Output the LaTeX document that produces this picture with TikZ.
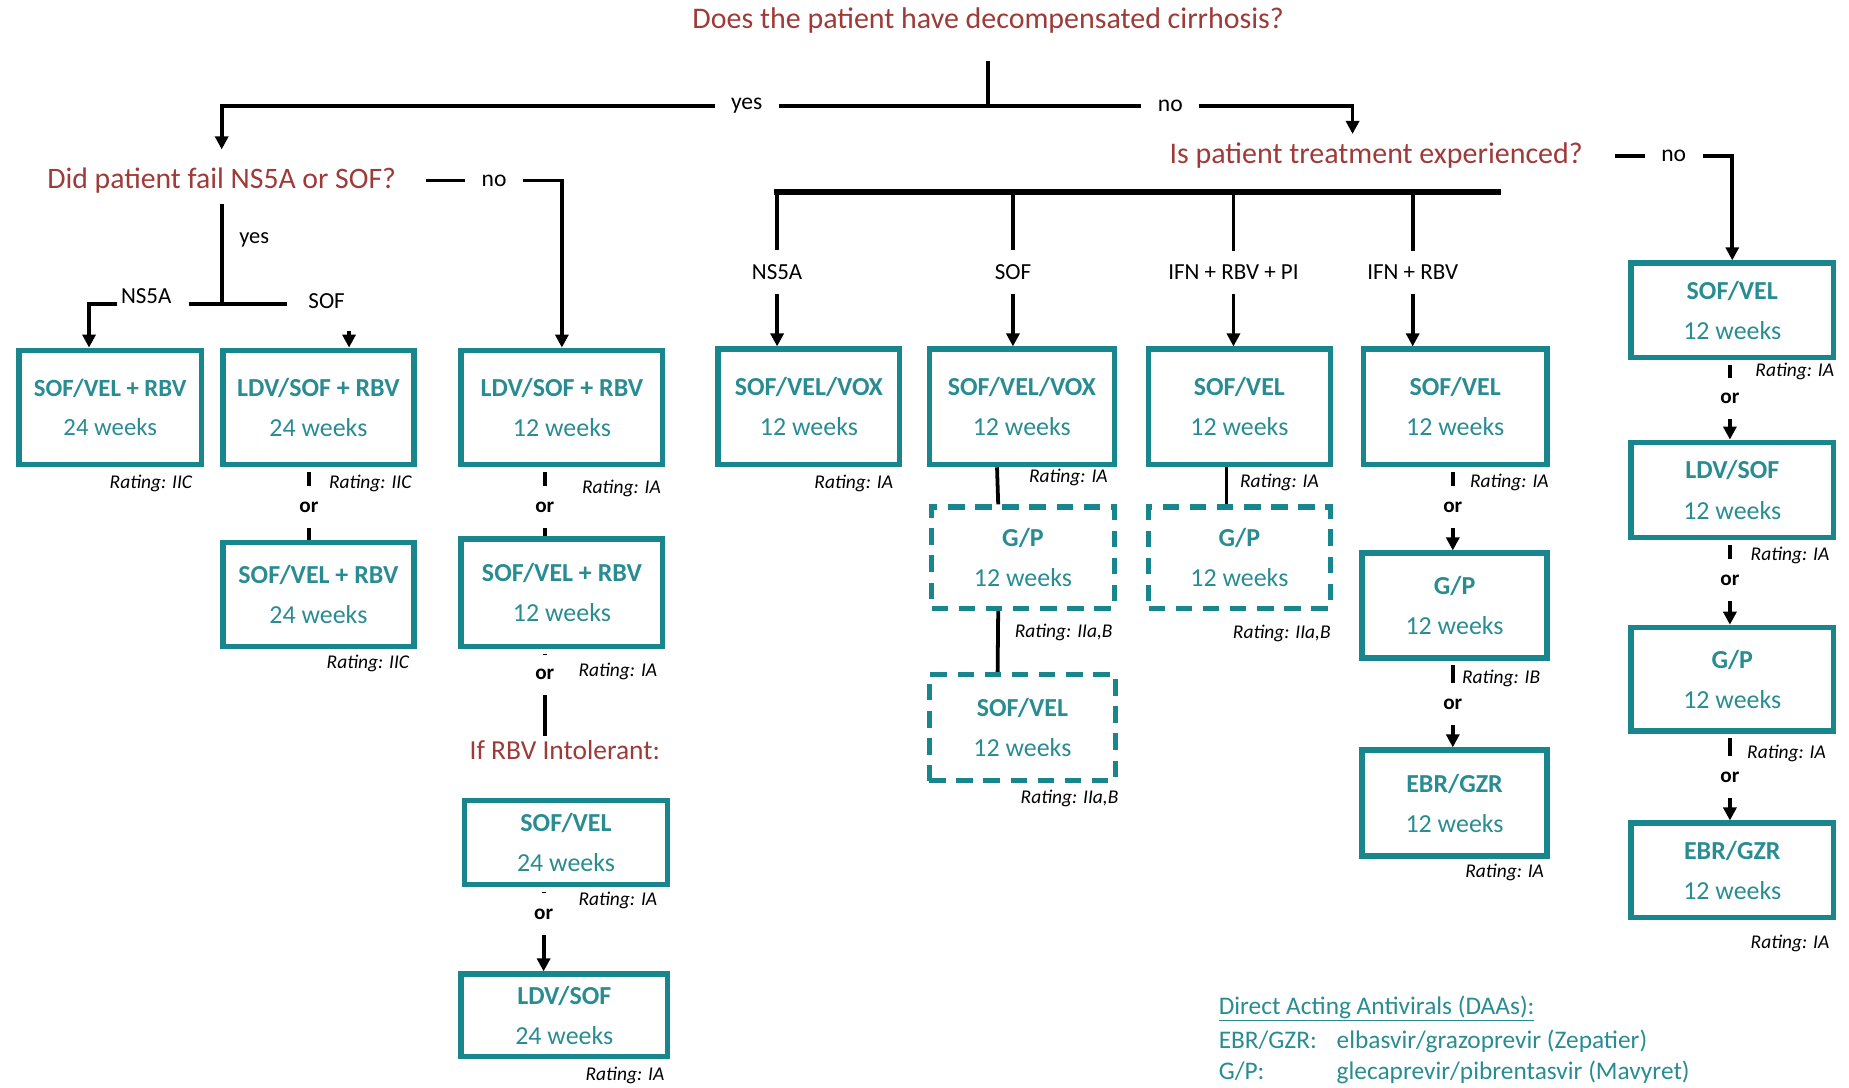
\documentclass[tikz,border=0pt]{standalone}
\usepackage{fontspec}
\setmainfont{Carlito}
\usetikzlibrary{arrows.meta}

\definecolor{dred}{RGB}{158,58,56}
\definecolor{tealb}{RGB}{24,134,140}
\definecolor{tealt}{RGB}{40,140,146}
\def\fsz#1{\fontsize{#1}{#1}\selectfont}

\begin{document}
\begin{tikzpicture}[x=1pt, y=-1pt,
    quest/.style={text=dred, font=\fsz{25.4}},
    rbox/.style={draw=tealb, line width=4.5pt, text=tealt, align=center, font=\fsz{22}, inner sep=0pt},
    dbox/.style={rbox, dash pattern=on 14pt off 9pt},
    rate/.style={font=\fsz{16.5}\itshape},
    brlab/.style={font=\fsz{19.5}, inner ysep=12pt},
    gap/.style={fill=white, font=\fsz{20}, inner xsep=14pt},
    ornode/.style={font=\fsz{18}\bfseries, inner xsep=1pt, inner ysep=13pt},
    legtxt/.style={anchor=west, text=tealt, font=\fsz{21.5}},
    ln/.style={line width=3.2pt},
    arr/.style={ln, -{Triangle[width=11pt,length=11pt]}},
  ]
  \useasboundingbox (0,0) rectangle (1568,922);

  % Questions
  \node[quest] (q1) at (838,17) {Does the patient have decompensated cirrhosis?};
  \node[quest, font=\fsz{25.2}] (q2) at (188,153) {Did patient fail NS5A or SOF?};
  \node[quest] (q3) at (1167,132) {Is patient treatment experienced?};
  \node[quest, font=\fsz{23.3}] (q4) at (479,636) {If RBV Intolerant:};

  % Boxes, left part
  \node[rbox, minimum width=155, minimum height=97, font=\fsz{21}] (a1) at (93.5,345.5) {\textbf{SOF/VEL + RBV}\\[12pt]24 weeks};
  \node[rbox, minimum width=162, minimum height=97] (a2) at (270,345.5) {\textbf{LDV/SOF + RBV}\\[12pt]24 weeks};
  \node[rbox, minimum width=162, minimum height=88] (a3) at (270,504) {\textbf{SOF/VEL + RBV}\\[12pt]24 weeks};
  \node[rbox, minimum width=171, minimum height=97] (b1) at (476.5,345.5) {\textbf{LDV/SOF + RBV}\\[12pt]12 weeks};
  \node[rbox, minimum width=171, minimum height=91] (b2) at (476.5,502.5) {\textbf{SOF/VEL + RBV}\\[12pt]12 weeks};
  \node[rbox, minimum width=172, minimum height=71] (b3) at (480,714.5) {\textbf{SOF/VEL}\\[12pt]24 weeks};
  \node[rbox, minimum width=175, minimum height=70] (b4) at (478.5,861) {\textbf{LDV/SOF}\\[12pt]24 weeks};

  % Boxes, treatment experienced
  \node[rbox, minimum width=154, minimum height=98] (c1) at (686,345) {\textbf{SOF/VEL/VOX}\\[12pt]12 weeks};
  \node[rbox, minimum width=157, minimum height=98] (d1) at (866.5,345) {\textbf{SOF/VEL/VOX}\\[12pt]12 weeks};
  \node[dbox, minimum width=155, minimum height=86] (d2) at (867.5,473) {\textbf{G/P}\\[12pt]12 weeks};
  \node[dbox, minimum width=158, minimum height=90] (d3) at (867,617) {\textbf{SOF/VEL}\\[12pt]12 weeks};
  \node[rbox, minimum width=154, minimum height=98] (e1) at (1051,345) {\textbf{SOF/VEL}\\[12pt]12 weeks};
  \node[dbox, minimum width=154, minimum height=86] (e2) at (1051,473) {\textbf{G/P}\\[12pt]12 weeks};
  \node[rbox, minimum width=156, minimum height=98] (f1) at (1234,345) {\textbf{SOF/VEL}\\[12pt]12 weeks};
  \node[rbox, minimum width=157, minimum height=89] (f2) at (1233.5,513.5) {\textbf{G/P}\\[12pt]12 weeks};
  \node[rbox, minimum width=157, minimum height=90] (f3) at (1233.5,681) {\textbf{EBR/GZR}\\[12pt]12 weeks};

  % Boxes, treatment naive
  \node[rbox, minimum width=172, minimum height=80] (g1) at (1469,263) {\textbf{SOF/VEL}\\[12pt]12 weeks};
  \node[rbox, minimum width=172, minimum height=81] (g2) at (1469,415.5) {\textbf{LDV/SOF}\\[12pt]12 weeks};
  \node[rbox, minimum width=172, minimum height=88] (g3) at (1469,576) {\textbf{G/P}\\[12pt]12 weeks};
  \node[rbox, minimum width=172, minimum height=80] (g4) at (1469,738) {\textbf{EBR/GZR}\\[12pt]12 weeks};

  % Top split
  \coordinate (top) at (838,90);
  \coordinate (q3in) at ([xshift=-20pt]q3.north);
  \draw[ln] ([yshift=-20pt]q1.south) -- (top);
  \draw[arr, shorten >=12pt] (top) -- node[gap, pos=0.315] {yes} (q2.north |- top) -- (q2.north);
  \draw[arr, shorten >=4pt] (top) -- node[gap] {no} (q3in |- top) -- (q3in);

  % No branches
  \draw[arr] ([xshift=22pt]q2.east) -- node[gap] {no} (b1.north |- q2.east) -- (b1.north);
  \draw[arr] ([xshift=24pt]q3.east) -- node[gap] {no} (g1.north |- q3.east) -- (g1.north);

  % Failed NS5A or SOF
  \coordinate (fork) at (188,258);
  \draw[ln, shorten <=6pt] (q2.south) -- node[right, pos=0.4, xshift=10pt, font=\fsz{19}] {yes} (fork);
  \draw[ln] ([xshift=-28pt]fork) -- ([xshift=55pt]fork);
  \node[brlab, inner ysep=3pt] (l-ns5a) at (124,251) {NS5A};
  \node[brlab, inner ysep=3pt] (l-sof) at (277,255) {SOF};
  \coordinate (a1in) at ([xshift=-18pt]a1.north);
  \draw[arr] ([yshift=-7pt]l-ns5a.west) -| (a1in);
  \draw[arr] ([xshift=26pt]a2.north) ++(0,-14) -- ([xshift=26pt]a2.north);

  % Treatment experienced
  \draw[line width=5pt] (656,163) -- (1273,163);
  \foreach \bx/\lab/\bn in {659/NS5A/c1, 859/SOF/d1, 1046/{IFN + RBV + PI}/e1, 1198/{IFN + RBV}/f1} {
    \node[brlab] (lab-\bn) at (\bx,231) {\lab};
    \draw[ln] (\bx,163) -- (lab-\bn.north);
    \draw[arr] (lab-\bn.south) -- (lab-\bn.south |- \bn.north);
  }
  \draw[ln] ([xshift=-21pt]d1.south) -- ([xshift=-21pt]d2.north);
  \draw[ln] ([xshift=-21pt]d2.south) -- ([xshift=-21pt]d3.north);
  \draw[ln] ([xshift=-11pt]e1.south) -- ([xshift=-11pt]e2.north);

  % Alternatives
  \foreach \up/\dn/\ox/\oy in {a2/a3/262/430, b1/b2/462/430, b2/q4/462/572} {
    \node[ornode] (or-\up) at (\ox,\oy) {or};
    \draw[ln, shorten <=4pt] (or-\up |- \up.south) -- (or-\up);
    \draw[ln] (or-\up) -- (or-\up |- \dn.north);
  }
  \foreach \up/\dn/\ox/\oy in {b3/b4/461/775, f1/f2/1232/430, f2/f3/1232/597, g1/g2/1467/338, g2/g3/1467/492, g3/g4/1467/659} {
    \node[ornode] (or-\up) at (\ox,\oy) {or};
    \draw[ln, shorten <=4pt] (or-\up |- \up.south) -- (or-\up);
    \draw[arr] (or-\up) -- (or-\up |- \dn.north);
  }

  % Ratings
  \foreach \rx/\ry/\rt [count=\i] in {128/410/IIC, 314/410/IIC, 312/563/IIC, 527/414/IA, 524/569/IA,
      524/764/IA, 530/912/IA, 724/410/IA, 906/405/IA, 902/536/{IIa,B}, 907/677/{IIa,B}, 1085/409/IA,
      1087/537/{IIa,B}, 1280/409/IA, 1273/575/IB, 1276/740/IA, 1522/315/IA, 1518/471/IA, 1515/639/IA, 1518/800/IA} {
    \node[rate] (rate\i) at (\rx,\ry) {Rating: \rt};
  }

  % Legend
  \node[legtxt] (leg) at (1030,855) {\underline{Direct Acting Antivirals (DAAs):}};
  \node[legtxt] (leg1) at (1030,883) {\makebox[100pt][l]{EBR/GZR:}elbasvir/grazoprevir (Zepatier)};
  \node[legtxt] (leg2) at (1030,909) {\makebox[100pt][l]{G/P:}glecaprevir/pibrentasvir (Mavyret)};
\end{tikzpicture}
\end{document}
